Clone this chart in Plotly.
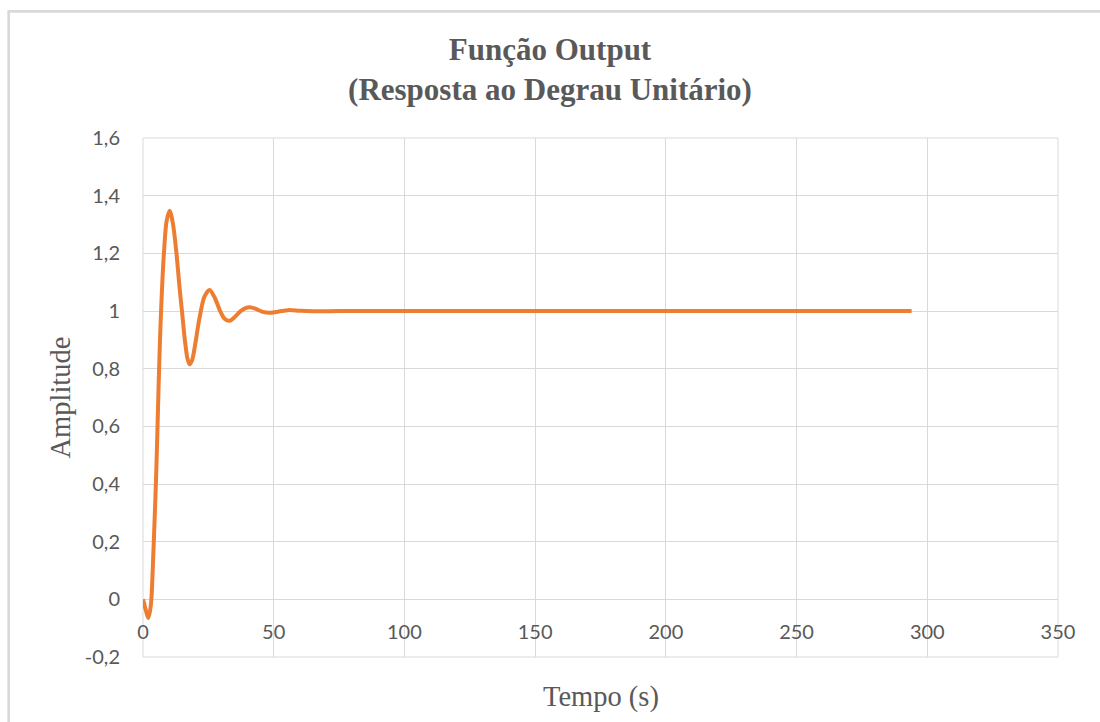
import plotly.graph_objects as go

# Step response samples: time in seconds and output amplitude
time_s = [0, 1, 2, 2.7, 3.2, 4, 4.5, 5, 5.5, 6, 6.5, 7, 7.5, 8, 9, 10.2,
          11.5, 12.8, 14, 14.9, 16, 17, 17.8, 18.8, 19.8, 21.5, 23.5, 25.5,
          27.5, 29.5, 31.2, 33.2, 35, 37, 39, 40.8, 43, 45.5, 48.5, 52, 55.5,
          60, 66, 75, 90, 120, 160, 200, 240, 294]
amplitude = [0, -0.035, -0.065, -0.04, 0.0, 0.17, 0.29, 0.42, 0.58, 0.75, 0.9,
             1.02, 1.12, 1.2, 1.31, 1.348, 1.30, 1.2, 1.08, 1.0, 0.9, 0.835,
             0.815, 0.83, 0.875, 0.97, 1.05, 1.073, 1.045, 1.0, 0.973, 0.966,
             0.978, 0.997, 1.009, 1.013, 1.008, 0.998, 0.994, 0.998, 1.003,
             1.001, 0.999, 1.0, 1.0, 1.0, 1.0, 1.0, 1.0, 1.0]

x_ticks = [0, 50, 100, 150, 200, 250, 300, 350]
x_tick_labels = ["0", "50", "100", "150", "200", "250", "300", "350"]
y_ticks = [-0.2, 0, 0.2, 0.4, 0.6, 0.8, 1.0, 1.2, 1.4, 1.6]
y_tick_labels = ["-0,2", "0", "0,2", "0,4", "0,6", "0,8", "1", "1,2", "1,4", "1,6"]

W, H = 1100, 722
ML, MR, MT, MB = 143, 42, 138, 65
plot_w = W - ML - MR
plot_h = H - MT - MB
y_min, y_max = -0.2, 1.6

GRID = "#d9d9d9"
TEXT = "#595959"
tick_font = dict(family="Lato", size=20, color=TEXT)
serif = "Liberation Serif"


def px_to_paper_x(px):
    return (px - ML) / plot_w


def px_to_paper_y(py):
    return (H - MB - py) / plot_h


fig = go.Figure()
fig.add_trace(go.Scatter(
    x=time_s, y=amplitude, mode="lines",
    line=dict(color="#ED7D31", width=4, shape="spline", smoothing=0.8),
    showlegend=False, hoverinfo="skip",
))

fig.update_layout(
    width=W, height=H,
    margin=dict(l=ML, r=MR, t=MT, b=MB),
    paper_bgcolor="white", plot_bgcolor="white",
    title=dict(
        text="<b>Função Output<br>(Resposta ao Degrau Unitário)</b>",
        font=dict(family=serif, size=31, color=TEXT),
        x=0.5, xanchor="center", xref="container",
        y=(H - 60) / H, yanchor="middle", yref="container",
    ),
    xaxis=dict(
        range=[0, 350], tickvals=x_ticks, ticktext=x_tick_labels,
        showgrid=True, gridcolor=GRID, gridwidth=1, zeroline=False,
        showline=False, ticks="", tickfont=tick_font,
        anchor="free", position=(0 - y_min) / (y_max - y_min),
        ticklabelstandoff=19,
    ),
    yaxis=dict(
        range=[y_min, y_max], tickvals=y_ticks, ticktext=y_tick_labels,
        showgrid=True, gridcolor=GRID, gridwidth=1, zeroline=False,
        showline=False, ticks="", tickfont=tick_font,
        ticklabelstandoff=22,
    ),
    shapes=[
        dict(type="rect", xref="x domain", yref="y domain",
             x0=0, x1=1, y0=0, y1=1, line=dict(color=GRID, width=1),
             layer="below"),
        dict(type="rect", xref="paper", yref="paper",
             x0=px_to_paper_x(8.7), x1=px_to_paper_x(W + 20),
             y0=px_to_paper_y(H + 20), y1=px_to_paper_y(11.3),
             line=dict(color=GRID, width=2.7), layer="below"),
    ],
    annotations=[
        dict(text="Tempo (s)", xref="paper", yref="paper",
             x=0.5, y=px_to_paper_y(697), xanchor="center", yanchor="middle",
             showarrow=False, font=dict(family=serif, size=28.5, color=TEXT)),
        dict(text="Amplitude", xref="paper", yref="paper", textangle=-90,
             x=px_to_paper_x(60), y=0.5, xanchor="center", yanchor="middle",
             showarrow=False, font=dict(family=serif, size=28.5, color=TEXT)),
    ],
)

fig.write_html("out.html")
